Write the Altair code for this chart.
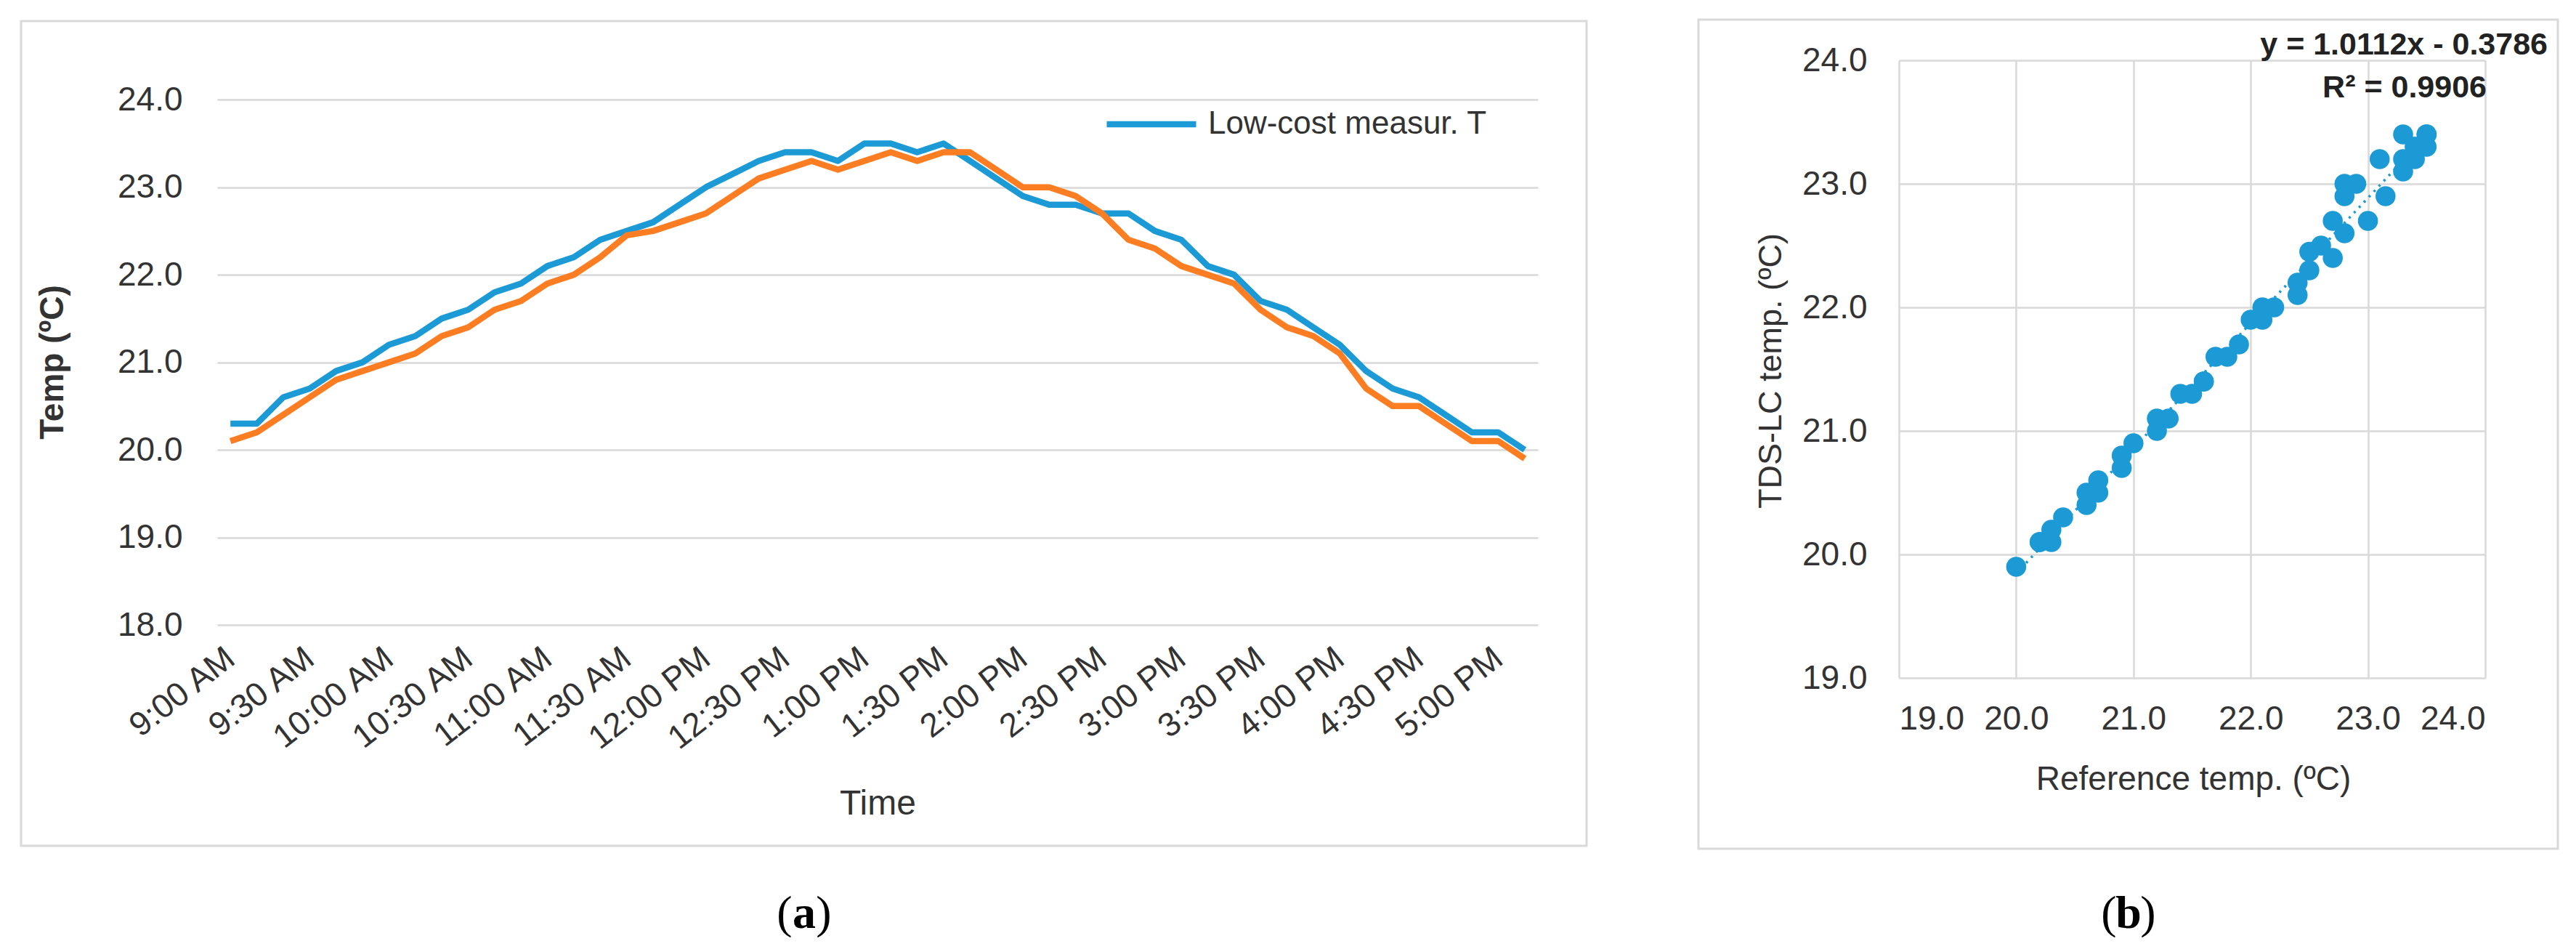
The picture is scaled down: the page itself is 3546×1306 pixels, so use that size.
import altair as alt
import pandas as pd

# ---------------- data ----------------
times = [
    "9:00 AM", "9:10 AM", "9:20 AM", "9:30 AM", "9:40 AM", "9:50 AM",
    "10:00 AM", "10:10 AM", "10:20 AM", "10:30 AM", "10:40 AM", "10:50 AM",
    "11:00 AM", "11:10 AM", "11:20 AM", "11:30 AM", "11:40 AM", "11:50 AM",
    "12:00 PM", "12:10 PM", "12:20 PM", "12:30 PM", "12:40 PM", "12:50 PM",
    "1:00 PM", "1:10 PM", "1:20 PM", "1:30 PM", "1:40 PM", "1:50 PM",
    "2:00 PM", "2:10 PM", "2:20 PM", "2:30 PM", "2:40 PM", "2:50 PM",
    "3:00 PM", "3:10 PM", "3:20 PM", "3:30 PM", "3:40 PM", "3:50 PM",
    "4:00 PM", "4:10 PM", "4:20 PM", "4:30 PM", "4:40 PM", "4:50 PM",
    "5:00 PM", "5:10 PM",
]
tick_labels = [
    "9:00 AM", "9:30 AM", "10:00 AM", "10:30 AM", "11:00 AM", "11:30 AM",
    "12:00 PM", "12:30 PM", "1:00 PM", "1:30 PM", "2:00 PM", "2:30 PM",
    "3:00 PM", "3:30 PM", "4:00 PM", "4:30 PM", "5:00 PM",
]
# blue series (legend: "Low-cost measur. T")
low_cost_T = [
    20.3, 20.3, 20.6, 20.7, 20.9, 21.0, 21.2, 21.3, 21.5, 21.6,
    21.8, 21.9, 22.1, 22.2, 22.4, 22.5, 22.6, 22.8, 23.0, 23.15,
    23.3, 23.4, 23.4, 23.3, 23.5, 23.5, 23.4, 23.5, 23.3, 23.1,
    22.9, 22.8, 22.8, 22.7, 22.7, 22.5, 22.4, 22.1, 22.0, 21.7,
    21.6, 21.4, 21.2, 20.9, 20.7, 20.6, 20.4, 20.2, 20.2, 20.0,
]
# orange series
reference_T = [
    20.1, 20.2, 20.4, 20.6, 20.8, 20.9, 21.0, 21.1, 21.3, 21.4,
    21.6, 21.7, 21.9, 22.0, 22.2, 22.45, 22.5, 22.6, 22.7, 22.9,
    23.1, 23.2, 23.3, 23.2, 23.3, 23.4, 23.3, 23.4, 23.4, 23.2,
    23.0, 23.0, 22.9, 22.7, 22.4, 22.3, 22.1, 22.0, 21.9, 21.6,
    21.4, 21.3, 21.1, 20.7, 20.5, 20.5, 20.3, 20.1, 20.1, 19.9,
]
series_names = ["Low-cost measur. T", "Reference T"]
y_ticks_a = [18, 19, 20, 21, 22, 23, 24]
ticks_b = [19, 20, 21, 22, 23, 24]
eq_text = "y = 1.0112x - 0.3786"
r2_text = "R² = 0.9906"

# ---------------- style ----------------
BLUE = "#1b9ad6"
ORANGE = "#fd7d23"
GRID = "#d9d9d9"
TEXT = "#333333"
FONT = "Liberation Sans"
SERIF = "Liberation Serif"

long_df = pd.DataFrame({
    "time": times + times,
    "temp": low_cost_T + reference_T,
    "series": [series_names[0]] * len(times) + [series_names[1]] * len(times),
})
scatter_df = pd.DataFrame({"x": low_cost_T, "y": reference_T})
one = pd.DataFrame({"k": [0]})

# ---------------- panel (a) ----------------
W_A, H_A = 1818, 777

x_a = alt.X(
    "time:O", sort=times,
    scale=alt.Scale(type="point", padding=0.5),
    axis=alt.Axis(
        values=tick_labels, labelAngle=-38, labelAlign="right", labelBaseline="middle",
        labelPadding=40, labelFontSize=46, labelFont=FONT, labelColor=TEXT,
        labelOverlap=False, labelBound=False, labelFlush=False, labelLimit=0,
        ticks=False, domain=False, grid=False,
        title="Time", titleFont=FONT, titleFontSize=48, titleFontWeight="normal",
        titleColor=TEXT, titleX=W_A / 2, titleY=246, titleAlign="center",
        titleBaseline="middle",
    ),
)
y_a = alt.Y(
    "temp:Q",
    scale=alt.Scale(domain=[18, 24.45], nice=False, zero=False),
    axis=alt.Axis(
        values=y_ticks_a, format=".1f", labelFontSize=46, labelFont=FONT,
        labelColor=TEXT, labelPadding=48, ticks=False, domain=False,
        grid=True, gridColor=GRID, gridWidth=2.5,
        title="Temp (ºC)", titleFont=FONT, titleFontSize=46, titleFontWeight="bold",
        titleColor=TEXT, titleX=-227, titleY=415, titleAngle=-90,
        titleAlign="center", titleBaseline="middle",
    ),
)

lines = alt.Chart(long_df).mark_line(strokeWidth=8.5, strokeJoin="round").encode(
    x=x_a, y=y_a,
    color=alt.Color(
        "series:N",
        scale=alt.Scale(domain=series_names, range=[BLUE, ORANGE]),
        legend=alt.Legend(
            orient="none", legendX=1220, legendY=22, title=None,
            values=[series_names[0]], symbolType="stroke", symbolSize=15129,
            symbolStrokeWidth=8.5, labelFontSize=44, labelFont=FONT,
            labelColor=TEXT, labelOffset=12, padding=0, labelLimit=0,
        ),
    ),
)

frame_a = alt.Chart(one).mark_rect(fill="transparent", stroke=GRID, strokeWidth=3).encode(
    x=alt.value(-270), x2=alt.value(1885), y=alt.value(-54), y2=alt.value(1081)
)

def paper_label(letter, cx, cy):
    lp = alt.Chart(one).mark_text(font=SERIF, fontSize=64, color="black",
                                  baseline="middle", align="center").encode(
        x=alt.value(cx - 27), y=alt.value(cy), text=alt.value("("))
    lt = alt.Chart(one).mark_text(font=SERIF, fontSize=64, fontWeight="bold",
                                  color="black", baseline="middle", align="center").encode(
        x=alt.value(cx), y=alt.value(cy), text=alt.value(letter))
    rp = alt.Chart(one).mark_text(font=SERIF, fontSize=64, color="black",
                                  baseline="middle", align="center").encode(
        x=alt.value(cx + 27), y=alt.value(cy), text=alt.value(")"))
    return [lp, lt, rp]

panel_a = alt.layer(frame_a, lines, *paper_label("a", 808, 1175)).properties(
    width=W_A, height=H_A
)

# ---------------- panel (b) ----------------
W_B, H_B = 807, 850

x_b = alt.X(
    "x:Q", scale=alt.Scale(domain=[19, 24], nice=False, zero=False),
    axis=alt.Axis(
        values=ticks_b, format=".1f", labelFontSize=46, labelFont=FONT,
        labelColor=TEXT, labelPadding=34, ticks=False, domain=False,
        grid=True, gridColor=GRID, gridWidth=2.5,
        title="Reference temp. (ºC)", titleFont=FONT, titleFontSize=46,
        titleFontWeight="normal", titleColor=TEXT, titleX=405, titleY=139,
        titleAlign="center", titleBaseline="middle",
    ),
)
y_b = alt.Y(
    "y:Q", scale=alt.Scale(domain=[19, 24], nice=False, zero=False),
    axis=alt.Axis(
        values=ticks_b, format=".1f", labelFontSize=46, labelFont=FONT,
        labelColor=TEXT, labelPadding=44, ticks=False, domain=False,
        grid=True, gridColor=GRID, gridWidth=2.5,
        title="TDS-LC temp. (ºC)", titleFont=FONT, titleFontSize=45,
        titleFontWeight="normal", titleColor=TEXT, titleX=-177, titleY=427,
        titleAngle=-90, titleAlign="center", titleBaseline="middle",
    ),
)

trend = alt.Chart(scatter_df).transform_regression("x", "y").mark_line(
    color=BLUE, strokeDash=[3, 7], strokeWidth=3.5
).encode(x=x_b, y=y_b)

points = alt.Chart(scatter_df).mark_circle(size=760, opacity=1, color=BLUE).encode(
    x=x_b, y=y_b
)

eq = alt.Chart(one).mark_text(font=FONT, fontSize=43, fontWeight="bold", color="#222222",
                              align="right", baseline="middle").encode(
    x=alt.value(893), y=alt.value(-21), text=alt.value(eq_text))
r2 = alt.Chart(one).mark_text(font=FONT, fontSize=43, fontWeight="bold", color="#222222",
                              align="right", baseline="middle").encode(
    x=alt.value(809), y=alt.value(38), text=alt.value(r2_text))

frame_b = alt.Chart(one).mark_rect(fill="transparent", stroke=GRID, strokeWidth=3).encode(
    x=alt.value(-276), x2=alt.value(907), y=alt.value(-56), y2=alt.value(1085)
)

panel_b = alt.layer(frame_b, trend, points, eq, r2, *paper_label("b", 316, 1175)).properties(
    width=W_B, height=H_B
)

chart = alt.hconcat(panel_a, panel_b, spacing=150).properties(
    padding={"left": 19, "top": 17, "right": 0, "bottom": 0},
    background="white",
).configure_view(stroke=None)

chart.save("out.html", embed_options={"renderer": "svg", "actions": False})
